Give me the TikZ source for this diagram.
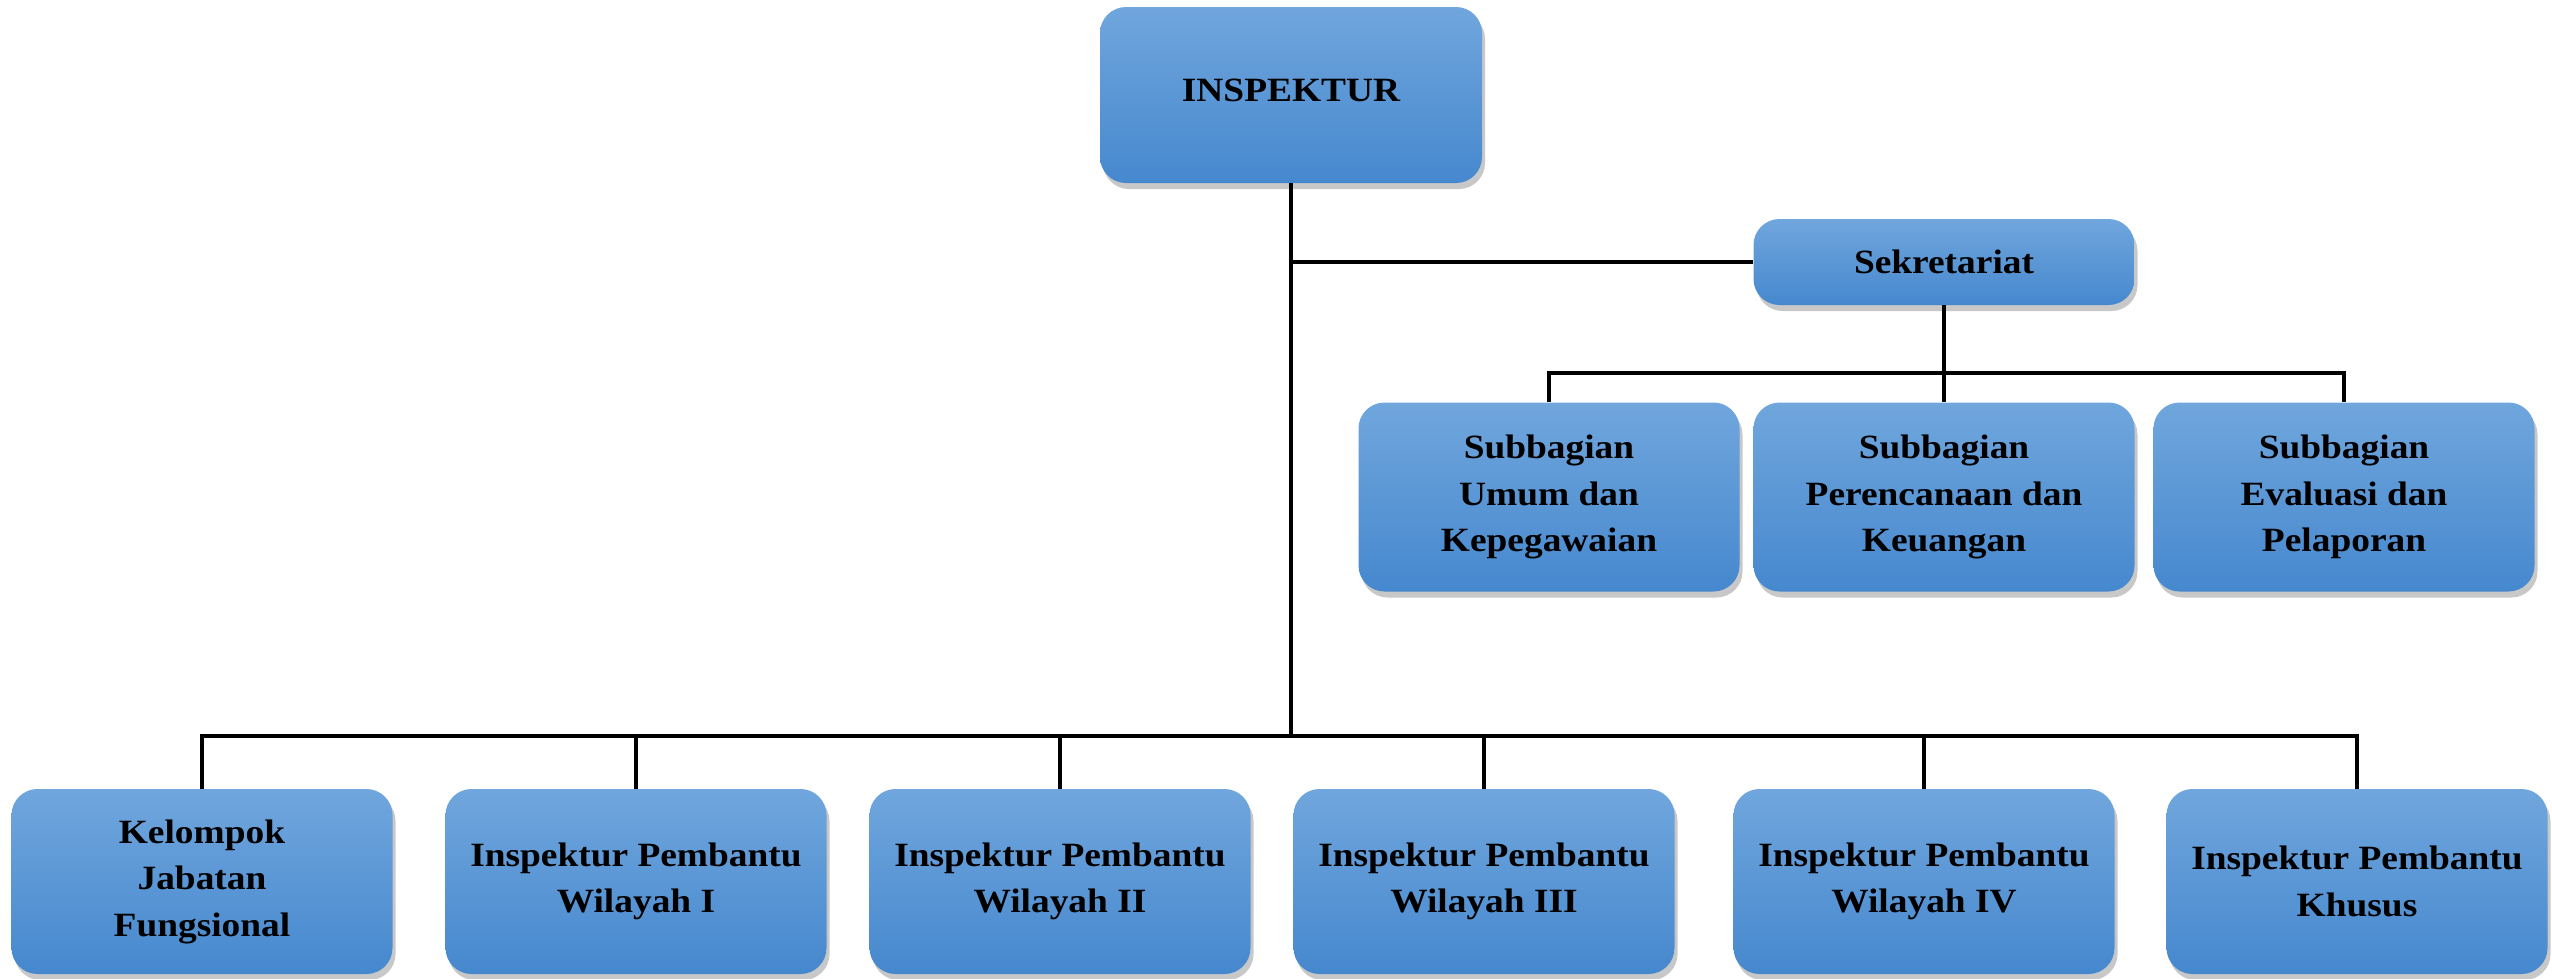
\documentclass[tikz,border=0pt]{standalone}
\usepackage{fontspec}
\setmainfont{Liberation Serif}[FakeStretch=1.1]
\usetikzlibrary{shadows}
\definecolor{boxtop}{RGB}{112,166,221}
\definecolor{boxbot}{RGB}{70,136,206}
\tikzset{
  unit/.style={rounded corners=26pt, top color=boxtop, bottom color=boxbot, draw=none,
    align=center, font=\fontsize{34}{46.5}\selectfont\bfseries, inner sep=0pt,
    drop shadow={shadow xshift=3pt, shadow yshift=-6pt, opacity=0.3, fill=black!70}},
  bigbox/.style={unit, minimum width=381pt, minimum height=185pt},
  link/.style={line width=4pt, black}
}
\begin{document}
\begin{tikzpicture}[x=1pt,y=-1pt]
\useasboundingbox[fill=white] (0,0) rectangle (2552,978);
% top
\node[unit, minimum width=382pt, minimum height=176pt] (insp) at (1291,95) {\raisebox{10pt}{INSPEKTUR}};
\node[unit, minimum width=381pt, minimum height=86pt] (sek) at (1944,262) {Sekretariat};
% subbagian
\node[bigbox, minimum height=189pt] (s1) at (1549,497) {Subbagian\\Umum dan\\Kepegawaian};
\node[bigbox, minimum height=189pt] (s2) at (1944,497) {Subbagian\\Perencanaan dan\\Keuangan};
\node[bigbox, minimum height=189pt] (s3) at (2344,497) {Subbagian\\Evaluasi dan\\Pelaporan};
% bottom
\node[bigbox] (b1) at (202,881.5) {Kelompok\\Jabatan\\Fungsional};
\node[bigbox] (b2) at (636,881.5) {Inspektur Pembantu\\Wilayah I};
\node[bigbox] (b3) at (1060,881.5) {Inspektur Pembantu\\Wilayah II};
\node[bigbox] (b4) at (1484,881.5) {Inspektur Pembantu\\Wilayah III};
\node[bigbox] (b5) at (1924,881.5) {Inspektur Pembantu\\Wilayah IV};
\node[bigbox] (b6) at (2357,881.5) {Inspektur Pembantu\\Khusus};
% connectors
\coordinate (hub) at (1291,736);
\coordinate (subhub) at (1944,373);
\draw[link] (insp.south) -- (hub);
\draw[link] (insp.south |- sek.west) -- (sek.west);
\draw[link] (b1.north) -- (b1.north |- hub) -- (b6.north |- hub) -- (b6.north);
\foreach \b in {b2,b3,b4,b5} \draw[link] (\b.north) -- (\b.north |- hub);
\draw[link] (sek.south) -- (s2.north);
\draw[link] (s1.north) -- (s1.north |- subhub) -- (s3.north |- subhub) -- (s3.north);
\end{tikzpicture}
\end{document}
